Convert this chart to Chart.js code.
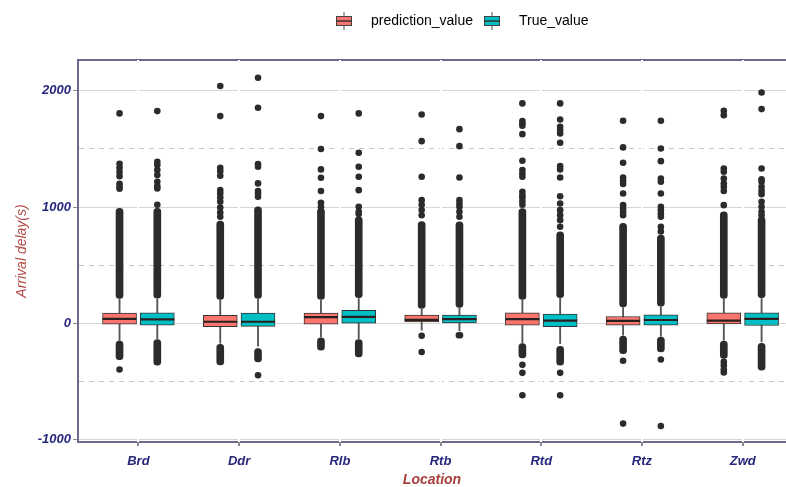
<!DOCTYPE html>
<html><head><meta charset="utf-8">
<script src="https://cdn.jsdelivr.net/npm/chart.js@4.4.1/dist/chart.umd.min.js"></script>
<style>html,body{margin:0;padding:0;background:#fff;overflow:hidden}#wrap{width:786px;height:487px;position:relative}</style>
</head><body><div id="wrap"><canvas id="c" width="786" height="487"></canvas></div>
<script>
const categories = ['Brd','Ddr','Rlb','Rtb','Rtd','Rtz','Zwd'];
const seriesNames = ['prediction_value','True_value'];
const yTicks = [-1000,-500,0,500,1000,1500,2000];
const Y_MIN = -1018, Y_MAX = 2264;

// prediction_value
const predQ1  = [-5, -28, -5, 14, -15, -14, -3];
const predMed = [40, 15, 55, 32, 37, 22, 25];
const predQ3  = [90, 70, 90, 72, 91, 60, 92];
const predWhiskerLow  = [-145, -170, -115, -57, -166, -100, -143];
const predWhiskerHigh = [208, 200, 200, 122, 200, 136, 208];
const predUpperDense = [[215, 990], [206, 880], [206, 990], [129, 875], [206, 988], [143, 860], [215, 960]];
const predLowerDense = [[-152, -310], [-178, -355], [-122, -230], null, [-172, -295], [-108, -260], [-150, -300]];
const predOutliers = [
  [1805, 1372, 1338, 1301, 1266, 1200, 1178, 1158, -395],
  [2040, 1782, 1338, 1309, 1269, 1146, 1117, 1083, 1046, 997, 954, 917],
  [1782, 1499, 1324, 1252, 1138, 1037, 1003],
  [1796, 1567, 1261, 1060, 1020, 975, 930, -105, -245],
  [1891, 1739, 1719, 1699, 1627, 1398, 1318, 1289, 1261, 1132, 1103, 1083, 1050, 1020, -355, -424, -616],
  [1742, 1513, 1381, 1255, 1226, 1198, 1117, 1017, 988, 960, 931, -320, -860],
  [1828, 1790, 1332, 1304, 1246, 1203, 1175, 1138, 1017, -330, -360, -395, -420]
];

// True_value
const trueQ1  = [-15, -25, 2, 5, -27, -15, -17];
const trueMed = [35, 15, 57, 37, 25, 30, 40];
const trueQ3  = [92, 90, 113, 72, 80, 75, 92];
const trueWhiskerLow  = [-130, -195, -129, -63, -172, -109, -158];
const trueWhiskerHigh = [210, 208, 215, 132, 215, 142, 215];
const trueUpperDense = [[218, 990], [215, 1003], [223, 917], [138, 874], [223, 788], [149, 760], [223, 917]];
const trueLowerDense = [[-138, -358], [-215, -330], [-138, -287], [-75, -127], [-195, -358], [-117, -244], [-170, -400]];
const trueOutliers = [
  [1825, 1390, 1361, 1318, 1275, 1218, 1180, 1160, 1020],
  [2112, 1854, 1369, 1347, 1204, 1138, 1117, 1089, -444],
  [1805, 1467, 1347, 1261, 1146, 1003, 960, 940],
  [1670, 1524, 1255, 1060, 1030, 1003, 960, 917],
  [1891, 1753, 1690, 1662, 1633, 1553, 1352, 1324, 1255, 1094, 1031, 974, 931, 888, 831, -424, -616],
  [1742, 1504, 1395, 1246, 1218, 1117, 1003, 974, 945, 917, 831, 790, -309, -880],
  [1985, 1842, 1332, 1238, 1218, 1175, 1140, 1110, 1046, 1003, 960, 930]
];

const COLORS = ['#F8766D', '#00BFC4'];
const OFFSET = 0.1875;
const FONT = "'Liberation Sans', Arial, Helvetica, sans-serif";
const NAVY = '#27277c';
const FRAME = '#6b6b8f';
const DOT = '#2b2b2b';

function seriesDatasets(idx, q1, med, q3, wlo, whi, upD, loD, outl) {
  const off = idx === 0 ? -OFFSET : OFFSET;
  const xs = categories.map((c, i) => i + 1 + off);
  const dense = [];
  categories.forEach((c, i) => {
    if (upD[i]) dense.push({x: xs[i], y: upD[i]});
    if (loD[i]) dense.push({x: xs[i], y: loD[i]});
  });
  const pts = [];
  categories.forEach((c, i) => outl[i].forEach(v => pts.push({x: xs[i], y: v})));
  return [
    {type: 'bar', label: seriesNames[idx], data: categories.map((c, i) => ({x: xs[i], y: [q1[i], q3[i]]})),
     backgroundColor: COLORS[idx], borderColor: '#333', borderWidth: 1, borderSkipped: false,
     barThickness: 34, grouped: false, order: 3},
    {type: 'bar', label: seriesNames[idx] + ' whisker', data: categories.map((c, i) => ({x: xs[i], y: [wlo[i], whi[i]]})),
     backgroundColor: '#555', borderWidth: 0, barThickness: 1.2, grouped: false, order: 6},
    {type: 'bar', label: seriesNames[idx] + ' dense', data: dense,
     backgroundColor: DOT, borderWidth: 0, barThickness: 7, borderRadius: 3.5, borderSkipped: false, grouped: false, order: 4},
    {type: 'scatter', label: seriesNames[idx] + ' median', data: categories.map((c, i) => ({x: xs[i], y: med[i]})),
     pointStyle: 'line', pointRadius: 17, pointBorderWidth: 2.2, pointBorderColor: '#2a1f1f', order: 2},
    {type: 'scatter', label: seriesNames[idx] + ' outliers', data: pts,
     pointRadius: 3.3, pointBackgroundColor: DOT, pointBorderWidth: 0, order: 1}
  ];
}

function legendKey(color) {
  const cv = document.createElement('canvas');
  cv.width = 29; cv.height = 18;
  const g = cv.getContext('2d');
  g.strokeStyle = '#555'; g.lineWidth = 1;
  g.beginPath(); g.moveTo(9, 0); g.lineTo(9, 4); g.moveTo(9, 14); g.lineTo(9, 18); g.stroke();
  g.fillStyle = color; g.fillRect(1, 4, 16, 10);
  g.strokeStyle = '#444'; g.strokeRect(1.5, 4.5, 15, 9);
  g.lineWidth = 1.5; g.strokeStyle = '#333';
  g.beginPath(); g.moveTo(1, 9); g.lineTo(17, 9); g.stroke();
  return cv;
}

const legendShift = {
  id: 'legendShift',
  afterLayout(chart) {
    const lg = chart.legend; const w = lg.right - lg.left;
    lg.left = 325; lg.right = lg.left + w;
  }
};

const datasets = [
  ...seriesDatasets(0, predQ1, predMed, predQ3, predWhiskerLow, predWhiskerHigh, predUpperDense, predLowerDense, predOutliers),
  ...seriesDatasets(1, trueQ1, trueMed, trueQ3, trueWhiskerLow, trueWhiskerHigh, trueUpperDense, trueLowerDense, trueOutliers)
];

const isMajor = c => c.tick && Math.abs(c.tick.value) % 1000 === 0;
const isEdge = c => c.tick && (c.tick.value === Y_MIN || c.tick.value === Y_MAX);

new Chart(document.getElementById('c'), {
  type: 'bar',
  data: {datasets},
  options: {
    responsive: false, devicePixelRatio: 1, animation: false, events: [],
    layout: {autoPadding: false, padding: {top: 4, left: 0, right: 0, bottom: 0}},
    plugins: {
      tooltip: {enabled: false},
      legend: {
        position: 'top', align: 'start',
        labels: {
          usePointStyle: true, pointStyleWidth: 29, padding: 10, color: '#1a1a1a',
          font: {family: FONT, size: 14},
          generateLabels: () => seriesNames.map((n, i) => ({
            text: n, pointStyle: legendKey(COLORS[i]), fillStyle: COLORS[i],
            strokeStyle: 'rgba(0,0,0,0)', lineWidth: 0, hidden: false, datasetIndex: i * 5
          }))
        }
      }
    },
    scales: {
      y: {
        type: 'linear', position: 'left', min: Y_MIN, max: Y_MAX,
        afterBuildTicks: s => { s.ticks = [Y_MIN, ...yTicks, Y_MAX].map(v => ({value: v})); },
        afterFit: s => { s.width = 78; },
        ticks: {callback: v => (v % 1000 === 0 ? String(v) : ''), color: NAVY, padding: 2,
                font: {family: FONT, size: 13, weight: 'bold', style: 'italic'}},
        grid: {color: c => (isEdge(c) ? FRAME : isMajor(c) ? '#d6d6d6' : '#c4c4c4'),
               lineWidth: c => (isEdge(c) ? 2 : 1), tickLength: 5,
               tickColor: c => (isMajor(c) ? '#8a8a8a' : 'rgba(0,0,0,0)'), z: -2},
        border: {color: FRAME, width: 2, z: -0.9, dash: c => (c.tick && !isMajor(c) && !isEdge(c) ? [5, 5] : [])},
        title: {display: true, text: 'Arrival delay(s)', color: '#b24c48',
                font: {family: FONT, size: 14, style: 'italic'}, padding: {top: 14, bottom: 0}}
      },
      x: {
        type: 'linear', position: 'bottom', min: 0.4, max: 7.43, offset: false,
        afterBuildTicks: s => { s.ticks = categories.map((c, i) => ({value: i + 1})); },
        afterFit: s => { s.height = 45; },
        ticks: {callback: v => categories[Math.round(v) - 1] || '', color: NAVY, padding: 8,
                maxRotation: 0, autoSkip: false,
                font: {family: FONT, size: 13, weight: 'bold', style: 'italic'}},
        grid: {color: '#ffffff', lineWidth: 2, tickColor: '#8a8a8a', tickLength: 4, offset: false, z: -0.5},
        border: {display: false},
        title: {display: true, text: 'Location', color: '#a8423d',
                font: {family: FONT, size: 14, weight: 'bold', style: 'italic'}, padding: {top: 2, bottom: -2}}
      },
      xTop: {
        type: 'linear', position: 'top', display: true,
        ticks: {display: false}, grid: {display: false, drawTicks: false},
        border: {display: false},
        afterFit: s => { s.height = Math.max(0, 56 - s.chart.legend.height); }
      }
    }
  },
  plugins: [legendShift]
});
</script>
</body></html>
